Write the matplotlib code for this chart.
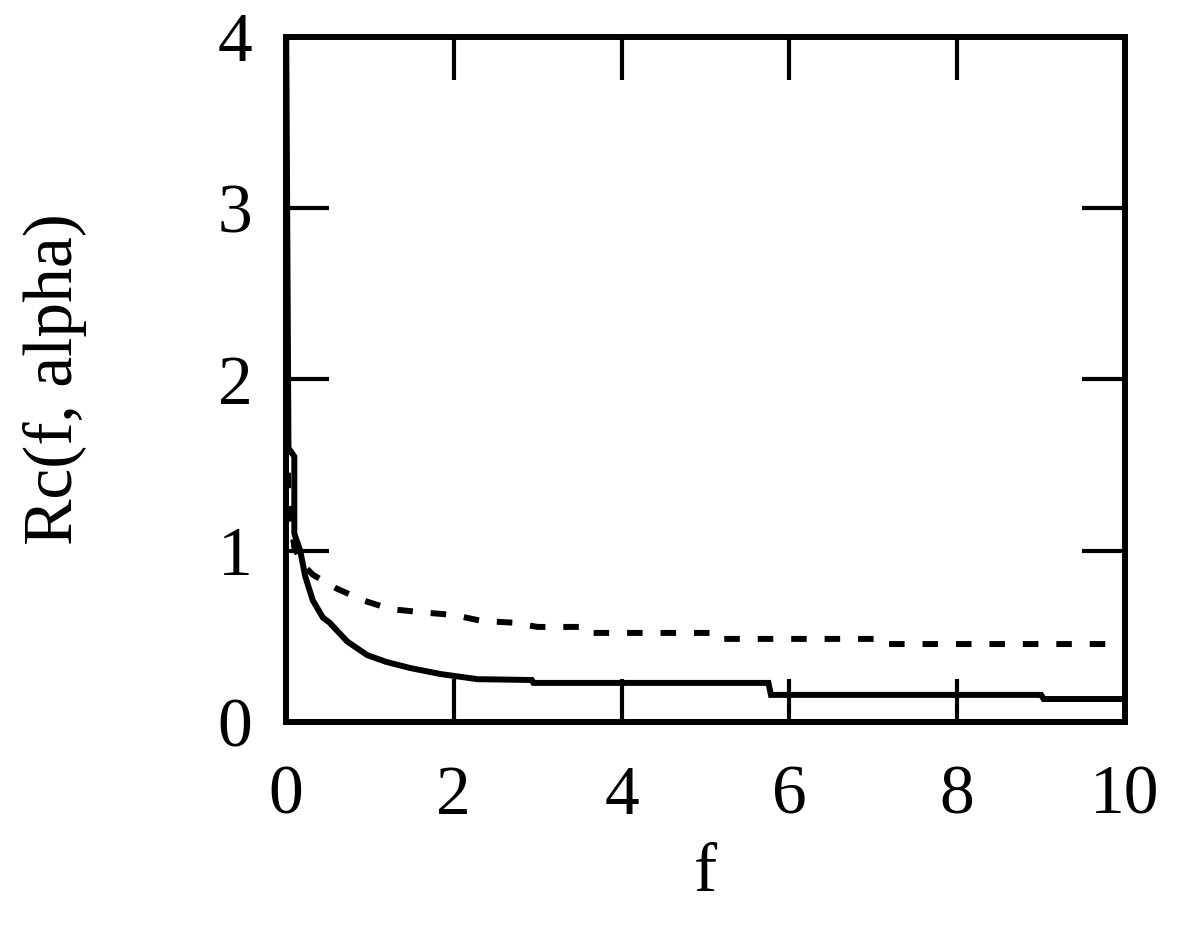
import matplotlib
matplotlib.use("Agg")
from matplotlib import pyplot as plt

plt.rcParams["font.family"] = ["Liberation Serif", "DejaVu Serif"]

# solid curve
f_solid = [0.0, 0.03, 0.10, 0.10, 0.17, 0.23, 0.32, 0.44, 0.52, 0.73, 0.97,
           1.20, 1.48, 1.84, 2.28, 2.93, 2.95, 5.75, 5.78, 9.00, 9.03, 10.0]
rc_solid = [4.3, 1.60, 1.55, 1.10, 1.00, 0.85, 0.71, 0.61, 0.58, 0.47, 0.39,
            0.35, 0.315, 0.28, 0.25, 0.245, 0.228, 0.228, 0.158, 0.158, 0.134, 0.134]

# dashed curve
f_dash = [0.0, 0.02, 0.03, 0.10, 0.20, 0.32, 0.60, 0.92, 1.24, 1.62, 2.00,
          2.33, 2.70, 3.00, 3.60, 3.65, 5.15, 5.20, 7.10, 7.15, 10.0]
rc_dash = [1.65, 1.60, 1.28, 1.02, 0.92, 0.86, 0.78, 0.71, 0.66, 0.64, 0.625,
           0.59, 0.58, 0.555, 0.555, 0.52, 0.52, 0.485, 0.485, 0.455, 0.455]

x_ticks = [0, 2, 4, 6, 8, 10]
y_ticks = [0, 1, 2, 3, 4]

fig = plt.figure(figsize=(11.86, 9.3), dpi=100)
ax = fig.add_axes([0.2411, 0.2237, 0.7075, 0.7365])

ax.plot(f_solid, rc_solid, color="black", lw=4.3, solid_joinstyle="miter")
ax.plot(f_dash, rc_dash, color="black", lw=4.3, dashes=(2.6, 3.0))

ax.set_xlim(0, 10)
ax.set_ylim(0, 4)
ax.set_xticks(x_ticks)
ax.set_yticks(y_ticks)
ax.tick_params(direction="in", length=31, width=3.0, top=True, right=True,
               labelsize=50, color="black")
ax.tick_params(axis="x", pad=31)
ax.tick_params(axis="y", pad=24)
for s in ax.spines.values():
    s.set_linewidth(4.3)
    s.set_color("black")

ax.set_xlabel("f", fontsize=50, labelpad=10)
ax.set_ylabel("Rc(f, alpha)", fontsize=50, labelpad=94)

fig.savefig("out.png", dpi=100)
